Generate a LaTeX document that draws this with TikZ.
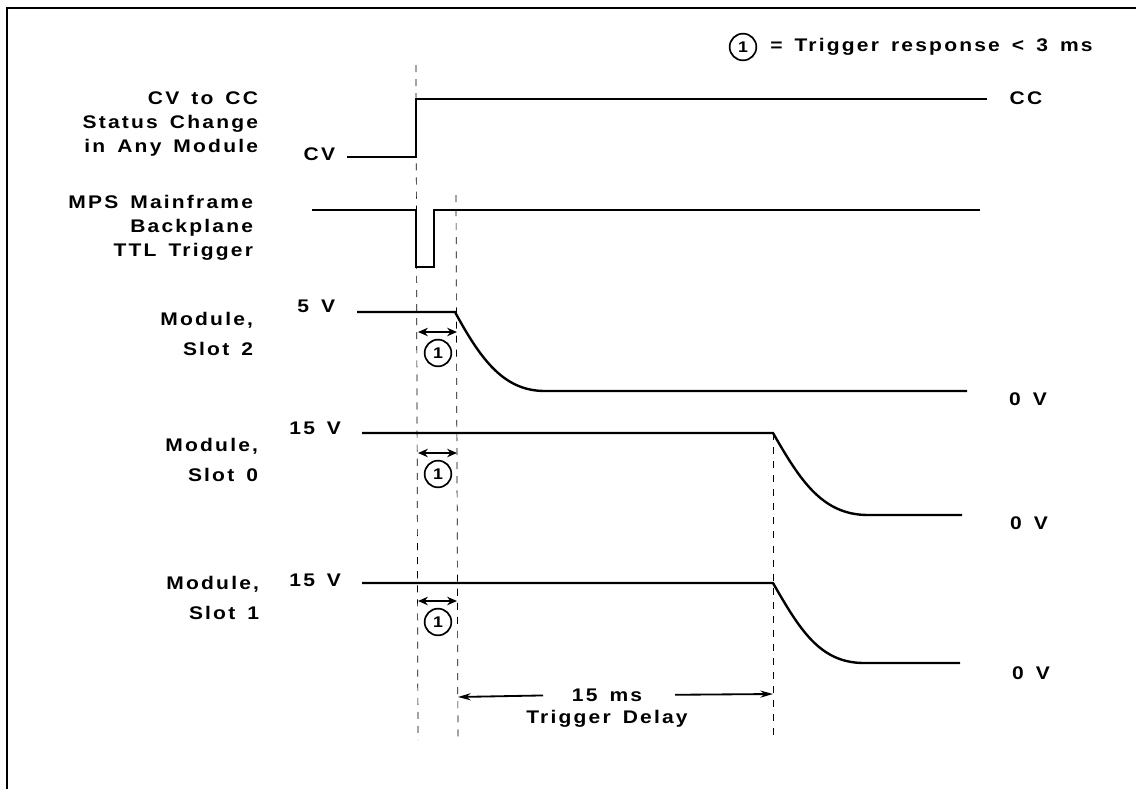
\documentclass[tikz,border=0pt]{standalone}
\usepackage{fontspec}
\setmainfont{Liberation Sans}[FakeStretch=1.15,LetterSpace=12,WordSpace=1.5]
\usetikzlibrary{positioning,arrows.meta,calc}

\tikzset{
  sig/.style={line width=1.7pt, line join=miter},
  guide/.style={line width=0.5pt, dash pattern=on 5pt off 5pt},
  resp/.style={{Stealth[length=7pt,width=6pt]}-{Stealth[length=7pt,width=6pt]}, line width=1.2pt},
  delay/.style={-{Stealth[length=9pt,width=5pt]}, line width=1.3pt},
  numcirc/.style={circle, draw, line width=1.2pt, minimum size=19pt, inner sep=0pt, font=\bfseries\fontsize{11}{11}\selectfont},
  lbl/.style={align=right, anchor=east},
}

\begin{document}
\begin{tikzpicture}[x=0.025cm, y=-0.025cm, font=\bfseries\fontsize{13}{17}\selectfont]
\useasboundingbox (0,0) rectangle (1136,789);
% frame
\draw[line width=1.2pt] (7,789) -- (7,8) -- (1136,8);
% legend
\node[numcirc] (key) at (743,47) {1};
\node[anchor=west, inner sep=0pt] (keytxt) at (770,47) {= Trigger response < 3 ms};
% left labels
\node[lbl] (cvcc) at (263,124) {CV to CC\\Status Change\\in Any Module};
\node[lbl] (mps) at (258,228) {MPS Mainframe\\Backplane\\TTL Trigger};
\node[lbl] (slot2) at (258,334) {Module,\\[4pt]Slot 2};
\node[lbl] (slot0) at (263,460) {Module,\\[4pt]Slot 0};
\node[lbl] (slot1) at (264,598) {Module,\\[4pt]Slot 1};
% levels
\node[anchor=east] (cv) at (340,154) {CV};
\node[anchor=east] (v5) at (340,306) {5 V};
\node[anchor=east] (v15a) at (346,428) {15 V};
\node[anchor=east] (v15b) at (346,580) {15 V};
\node (cc) at (1026,98) {CC};
\node (zero2) at (1028,399) {0 V};
\node (zero0) at (1029,523) {0 V};
\node (zero1) at (1031,673) {0 V};
% guides
\coordinate (g1t) at (416,65);  \coordinate (g1b) at (418,740);
\coordinate (g2t) at (456,195); \coordinate (g2b) at (458,740);
\coordinate (g3t) at (773,433); \coordinate (g3b) at (773,740);
\draw[guide] (g1t) -- (g1b);
\draw[guide] (g2t) -- (g2b);
\draw[guide] (g3t) -- (g3b);
% CV to CC
\draw[sig] (347,157) -- (416,157) -- (416,99) -- (987,99);
% backplane trigger
\draw[sig] (312,210) -- (416,210) -- (416,267) -- (434,267) -- (434,210) -- (980,210);
% slot 2
\draw[sig] (357,312) -- (455,312) .. controls (482,362) and (505,391) .. (545,391) -- (967,391);
% slot 0
\draw[sig] (362,433) -- (773,433) .. controls (800,480) and (822,515) .. (868,515) -- (962,515);
% slot 1
\draw[sig] (362,583) -- (773,583) .. controls (800,630) and (820,663) .. (864,663) -- (960,663);
% trigger response
\foreach \y/\n in {332/a,453/b,601/c} {
  \coordinate (ra\n) at (418,\y);
  \coordinate (rb\n) at (457,\y);
  \draw[resp] (ra\n) -- (rb\n);
  \node[numcirc] (c\n) at (438,\y+21) {1};
}
% delay
\node (dly) at (607,695) {15 ms};
\node (dlytxt) at (607,719) {Trigger Delay};
\coordinate (dl) at (458,697);
\coordinate (dr) at (773,694);
\draw[delay, shorten <=17pt] (dly.west) -- (dl);
\draw[delay, shorten <=20pt] (dly.east) -- (dr);
\end{tikzpicture}
\end{document}
